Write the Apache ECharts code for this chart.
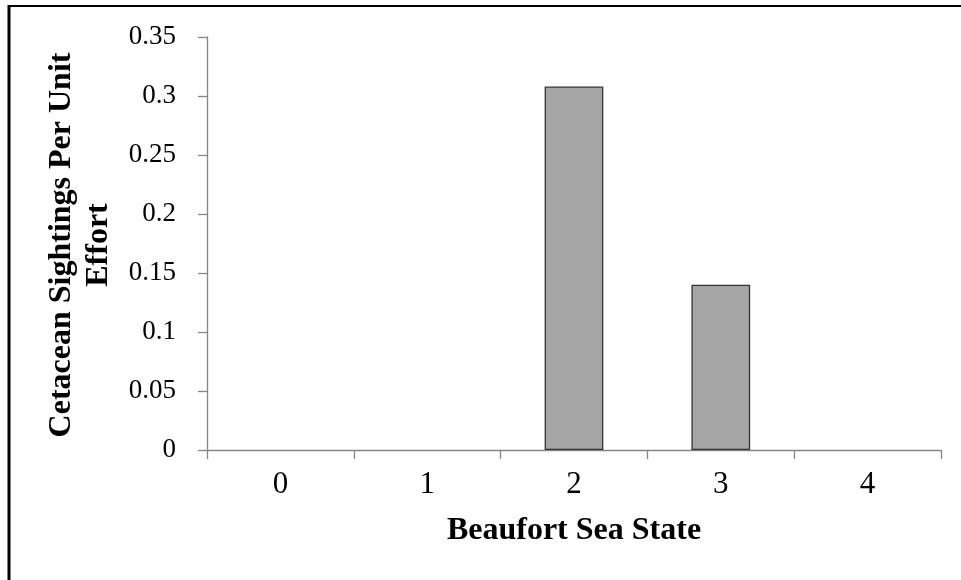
<!DOCTYPE html>
<html>
<head>
<meta charset="utf-8">
<script src="https://cdn.jsdelivr.net/npm/echarts@6/dist/echarts.min.js"></script>
<style>
  html, body { margin: 0; padding: 0; background: #fff; }
  #chart { width: 961px; height: 580px; }
</style>
</head>
<body>
<div id="chart"></div>
<script>
// data
const categories = ['0', '1', '2', '3', '4'];
const sightings = [0, 0, 0.308, 0.14, 0];
const yTicks = [0, 0.05, 0.1, 0.15, 0.2, 0.25, 0.3, 0.35];
const yTitleLines = ['Cetacean Sightings Per Unit', 'Effort'];

const FONT = 'Liberation Serif';
const AXIS_GRAY = '#868686';

const chart = echarts.init(document.getElementById('chart'));

// y axis title, two rotated lines (baselines at x=73 and x=110)
const yTitle = yTitleLines.map((t, i) => ({
  type: 'text',
  x: [62, 99][i],
  y: 245,
  rotation: Math.PI / 2,
  style: {
    text: t,
    font: 'bold 32px "' + FONT + '"',
    fill: '#000',
    align: 'center',
    verticalAlign: 'middle'
  }
}));

chart.setOption({
  animation: false,
  backgroundColor: '#fff',
  grid: { left: 207, right: 20, top: 37, bottom: 130 },
  graphic: [
    // outer frame (only left and top edge visible in the picture)
    { type: 'line', shape: { x1: 9, y1: 5, x2: 9, y2: 580 }, style: { stroke: '#000', lineWidth: 3 } },
    { type: 'line', shape: { x1: 8, y1: 6, x2: 961, y2: 6 }, style: { stroke: '#000', lineWidth: 2 } },
    ...yTitle
  ],
  xAxis: {
    type: 'category',
    data: categories,
    name: 'Beaufort Sea State',
    nameLocation: 'middle',
    nameGap: 65,
    nameTextStyle: { fontFamily: FONT, fontWeight: 'bold', fontSize: 32, color: '#000' },
    axisLine: { lineStyle: { color: AXIS_GRAY, width: 1.3 } },
    axisTick: { show: true, length: 9, lineStyle: { color: AXIS_GRAY, width: 1.3 } },
    axisLabel: { fontFamily: FONT, fontSize: 31, color: '#000', margin: 19 },
    splitLine: { show: false }
  },
  yAxis: {
    type: 'value',
    min: 0,
    max: yTicks[yTicks.length - 1],
    interval: 0.05,
    axisLine: { show: true, lineStyle: { color: AXIS_GRAY, width: 1.3 } },
    axisTick: { show: true, length: 9, lineStyle: { color: AXIS_GRAY, width: 1.3 } },
    axisLabel: {
      fontFamily: FONT, fontSize: 27, color: '#000', margin: 31,
      formatter: v => String(parseFloat(v.toFixed(2)))
    },
    splitLine: { show: false }
  },
  series: [{
    type: 'bar',
    // zero-height bars get no outline, like the reference
    data: sightings.map(v => v === 0 ? { value: v, itemStyle: { borderWidth: 0 } } : v),
    barWidth: '40%',
    itemStyle: { color: '#A5A5A5', borderColor: '#333', borderWidth: 1.3 }
  }]
});
</script>
</body>
</html>
